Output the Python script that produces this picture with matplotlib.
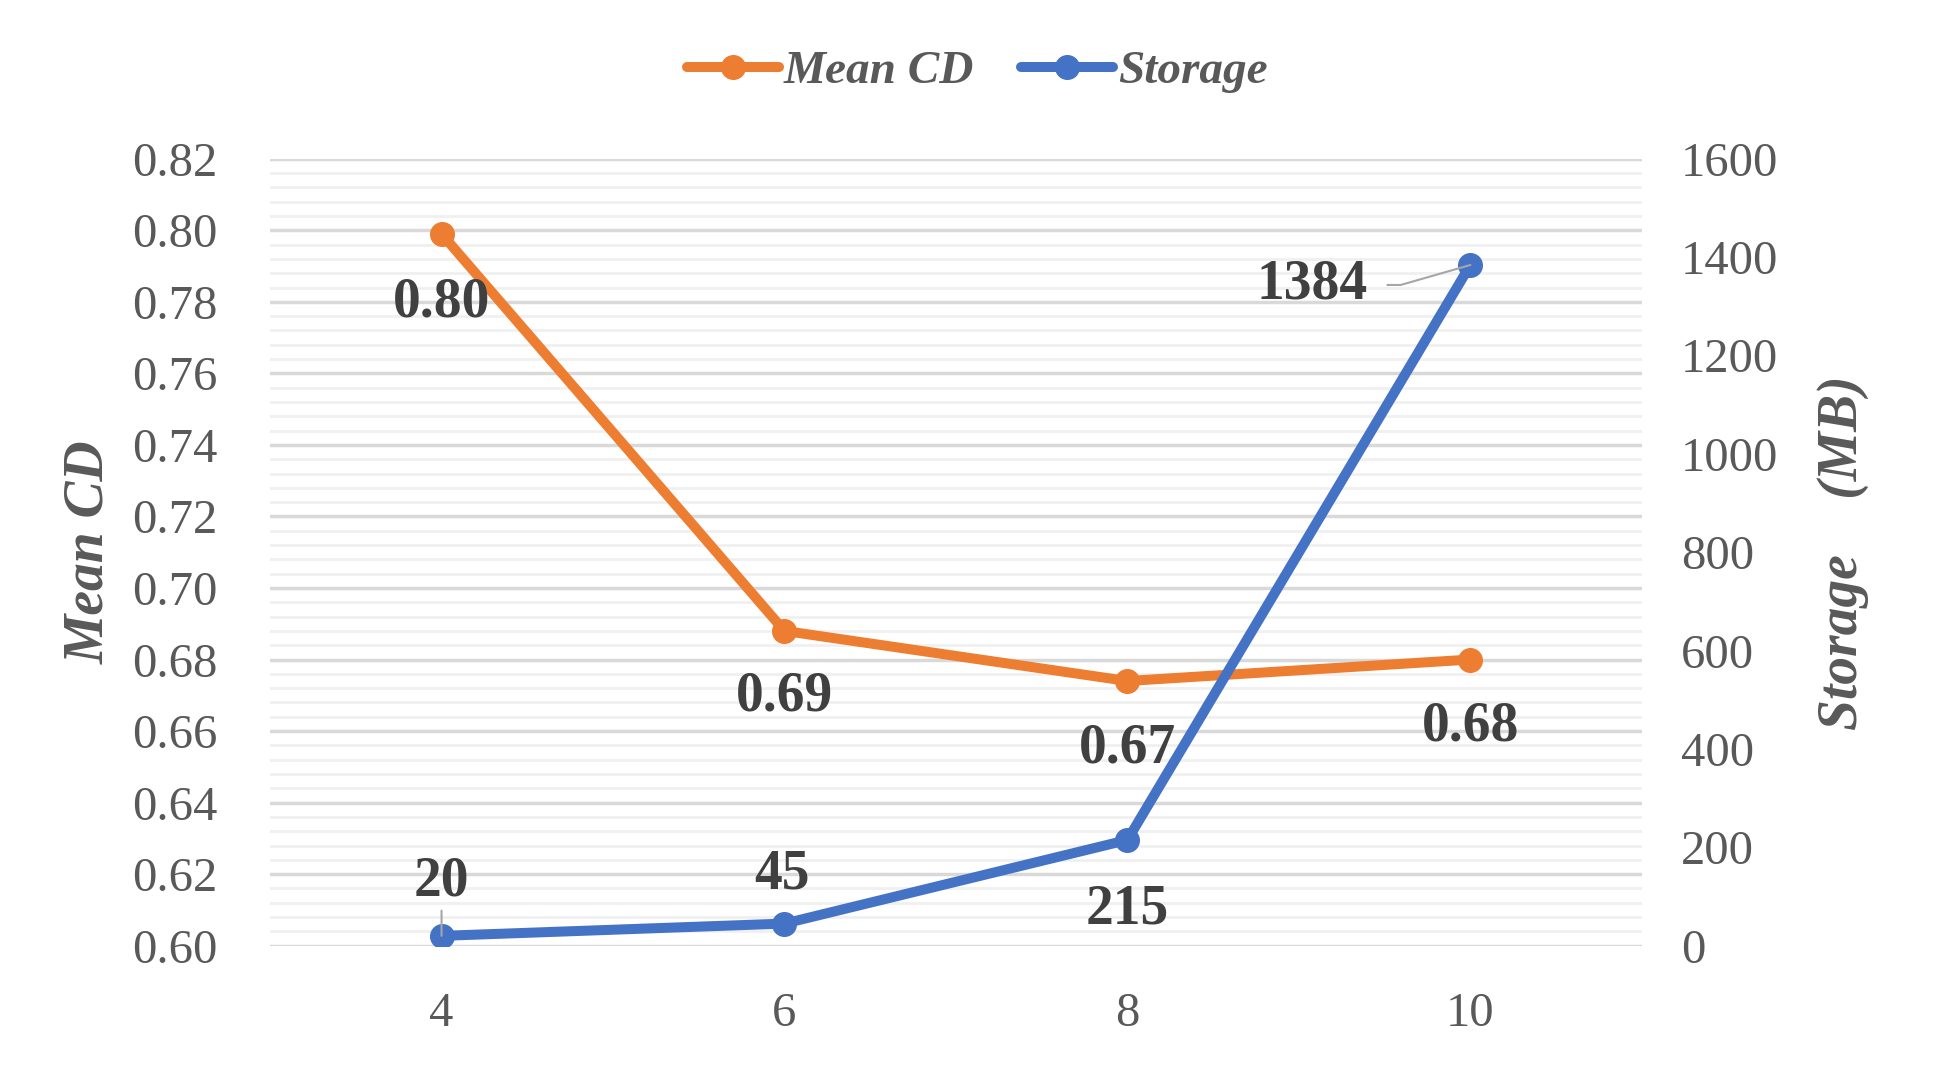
import matplotlib
matplotlib.use("Agg")
import matplotlib.pyplot as plt
from matplotlib.ticker import MultipleLocator, FormatStrFormatter

# data
resolution = ["4", "6", "8", "10"]
mean_cd = [0.799, 0.688, 0.674, 0.680]
mean_cd_labels = ["0.80", "0.69", "0.67", "0.68"]
storage_mb = [20, 45, 215, 1384]
storage_labels = ["20", "45", "215", "1384"]

orange = "#ED7D31"
blue = "#4472C4"
grey_txt = "#595959"
dark_txt = "#404040"

plt.rcParams["font.family"] = ["Liberation Serif", "DejaVu Serif"]

fig = plt.figure(figsize=(19.43, 10.77), dpi=100)
ax = fig.add_axes([0.139, 0.1219, 0.706, 0.7307])
ax2 = ax.twinx()

x = range(len(resolution))

ax.plot(x, mean_cd, color=orange, lw=7.2, marker="o", ms=17,
        solid_capstyle="round", zorder=3, label="Mean CD")
ax2.plot(x, storage_mb, color=blue, lw=7.2, marker="o", ms=17,
         solid_capstyle="round", zorder=3, label="Storage")

ax.set_xlim(-0.5, len(resolution) - 0.5)
ax.set_ylim(0.60, 0.82)
ax2.set_ylim(0, 1600)

ax.yaxis.set_major_locator(MultipleLocator(0.02))
ax.yaxis.set_minor_locator(MultipleLocator(0.004))
ax.yaxis.set_major_formatter(FormatStrFormatter("%.2f"))
ax2.yaxis.set_major_locator(MultipleLocator(200))

ax.grid(which="major", axis="y", color="#d9d9d9", lw=2.5)
ax.grid(which="minor", axis="y", color="#f0f0f0", lw=2)
ax.set_axisbelow(True)

ax.set_xticks(list(x))
ax.set_xticklabels(resolution)

for a in (ax, ax2):
    for s in a.spines.values():
        s.set_visible(False)
    a.tick_params(which="both", length=0, labelsize=35, labelcolor=grey_txt)
ax.tick_params(axis="y", pad=38)
ax.tick_params(axis="x", pad=33)
ax2.tick_params(axis="y", pad=28)

ax.set_ylabel("Mean CD", fontsize=40, fontweight="bold", style="italic",
              color=grey_txt, va="center")
ax.yaxis.set_label_coords(-0.132, 0.5)
ax2.set_ylabel("Storage    (MB)", fontsize=40, fontweight="bold",
               style="italic", color=grey_txt, va="center")
ax2.yaxis.set_label_coords(1.1465, 0.5)

# data labels
cd_offsets = [(0, -69), (0, -66), (0, -67), (0, -67)]
for i, (v, t) in enumerate(zip(mean_cd, mean_cd_labels)):
    ax.annotate(t, (i, v), xytext=cd_offsets[i], textcoords="offset pixels",
                ha="center", va="center", fontsize=40, fontweight="bold",
                color=dark_txt, zorder=5)

st_offsets = [(0, 54), (-2, 49), (0, -70), (-158, -20)]
for i, (v, t) in enumerate(zip(storage_mb, storage_labels)):
    if i == 0:
        ax2.annotate(t, (i, v), xytext=st_offsets[i], textcoords="offset pixels",
                     ha="center", va="center", fontsize=40, fontweight="bold",
                     color=dark_txt, zorder=5,
                     arrowprops=dict(arrowstyle="-", color="#a6a6a6", lw=1.5,
                                     shrinkA=24, shrinkB=0))
    elif i == 3:
        ax2.annotate(t, (i, v), xytext=st_offsets[i], textcoords="offset pixels",
                     ha="center", va="center", fontsize=40, fontweight="bold",
                     color=dark_txt, zorder=5,
                     arrowprops=dict(arrowstyle="-", color="#a6a6a6", lw=1.5,
                                     shrinkA=12, shrinkB=0, relpos=(1.0, 0.5),
                                     connectionstyle="angle,angleA=0,angleB=16,rad=0"))
    else:
        ax2.annotate(t, (i, v), xytext=st_offsets[i], textcoords="offset pixels",
                     ha="center", va="center", fontsize=40, fontweight="bold",
                     color=dark_txt, zorder=5)

h1, l1 = ax.get_legend_handles_labels()
h2, l2 = ax2.get_legend_handles_labels()
leg = fig.legend(h1 + h2, l1 + l2, loc="center", bbox_to_anchor=(0.503, 0.9335),
                 ncol=2, frameon=False, handlelength=1.95, handletextpad=0.1,
                 columnspacing=1.0,
                 prop=dict(family="Liberation Serif", size=34, weight="bold",
                           style="italic"))
for t in leg.get_texts():
    t.set_color(grey_txt)

fig.savefig("out.png", dpi=100)
